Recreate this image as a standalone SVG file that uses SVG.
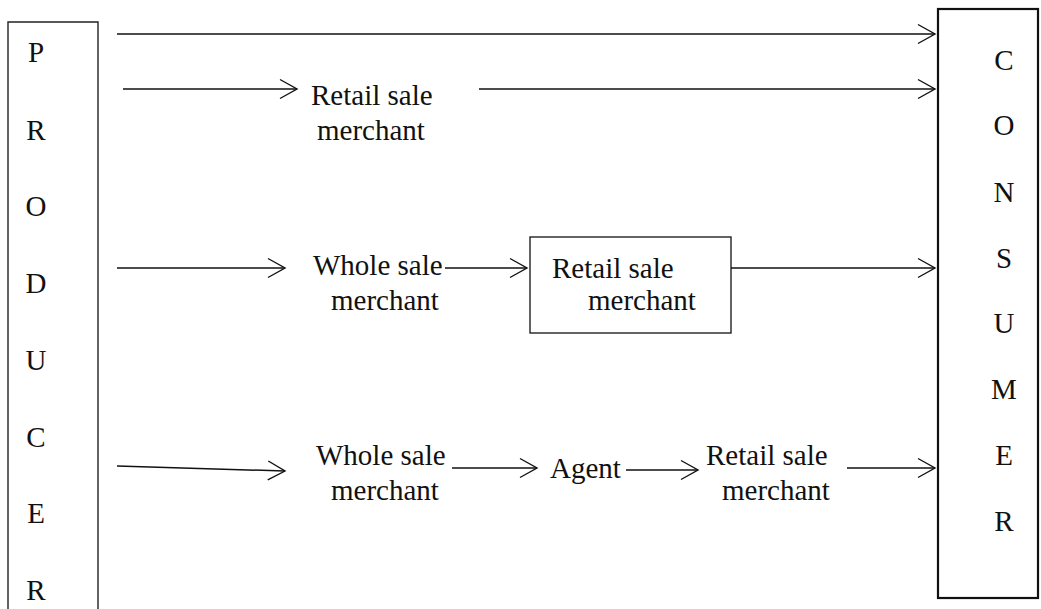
<svg xmlns="http://www.w3.org/2000/svg" width="1041" height="609" viewBox="0 0 1041 609">
  <style>
    text { font-family: "Liberation Serif", "Times New Roman", serif; font-size: 29px; fill: #111; }
    .letter { text-anchor: middle; }
    .box { fill: none; stroke: #222; stroke-width: 1.4; }
    .box-heavy { fill: none; stroke: #111; stroke-width: 2.2; }
    .flow { fill: none; stroke: #111; stroke-width: 1.5; marker-end: url(#chevron); }
  </style>
  <defs>
    <!-- open chevron arrowhead -->
    <marker id="chevron" markerUnits="userSpaceOnUse" markerWidth="22" markerHeight="24" refX="18" refY="11" orient="auto">
      <path d="M1,1.5 L18,11 L1,20.5" fill="none" stroke="#111" stroke-width="1.4"/>
    </marker>
  </defs>
  <rect width="1041" height="609" fill="#fff"/>

  <!-- producer column (open at the bottom) -->
  <g id="producer">
    <path class="box" d="M8,609 L8,22 L98,22 L98,609"/>
    <text class="letter" x="36" y="62">P</text>
    <text class="letter" x="36" y="140">R</text>
    <text class="letter" x="36" y="216">O</text>
    <text class="letter" x="36" y="293">D</text>
    <text class="letter" x="36" y="370">U</text>
    <text class="letter" x="36" y="447">C</text>
    <text class="letter" x="36" y="523">E</text>
    <text class="letter" x="36" y="600">R</text>
  </g>

  <!-- consumer column -->
  <g id="consumer">
    <rect class="box-heavy" x="938" y="9" width="100" height="589"/>
    <text class="letter" x="1004" y="70">C</text>
    <text class="letter" x="1004" y="135">O</text>
    <text class="letter" x="1004" y="202">N</text>
    <text class="letter" x="1004" y="268">S</text>
    <text class="letter" x="1004" y="333">U</text>
    <text class="letter" x="1004" y="399">M</text>
    <text class="letter" x="1004" y="465">E</text>
    <text class="letter" x="1004" y="531">R</text>
  </g>

  <!-- channel 2: retail merchant -->
  <g id="retail-1">
    <text x="311" y="105">Retail sale</text>
    <text x="317" y="140">merchant</text>
  </g>

  <!-- channel 3: wholesaler, boxed retailer -->
  <g id="wholesale-1">
    <text x="313" y="275">Whole sale</text>
    <text x="331" y="310">merchant</text>
  </g>
  <g id="retail-2">
    <rect class="box" x="530" y="237" width="201" height="96"/>
    <text x="552" y="278">Retail sale</text>
    <text x="588" y="310">merchant</text>
  </g>

  <!-- channel 4: wholesaler, agent, retailer -->
  <g id="wholesale-2">
    <text x="316" y="465">Whole sale</text>
    <text x="331" y="500">merchant</text>
  </g>
  <g id="agent">
    <text x="550" y="478">Agent</text>
  </g>
  <g id="retail-3">
    <text x="706" y="465">Retail sale</text>
    <text x="722" y="500">merchant</text>
  </g>

  <!-- connectors -->
  <g id="connectors">
    <line class="flow" x1="117" y1="34" x2="935" y2="34"/>
    <line class="flow" x1="123" y1="89" x2="297" y2="89"/>
    <line class="flow" x1="479" y1="89" x2="935" y2="89"/>
    <line class="flow" x1="117" y1="268" x2="285" y2="268"/>
    <line class="flow" x1="445" y1="268" x2="527" y2="268"/>
    <line class="flow" x1="731" y1="268" x2="935" y2="268"/>
    <line class="flow" x1="117" y1="466" x2="285" y2="471"/>
    <line class="flow" x1="452" y1="468" x2="537" y2="468"/>
    <line class="flow" x1="626" y1="470" x2="698" y2="470"/>
    <line class="flow" x1="847" y1="468" x2="935" y2="468"/>
  </g>
</svg>
